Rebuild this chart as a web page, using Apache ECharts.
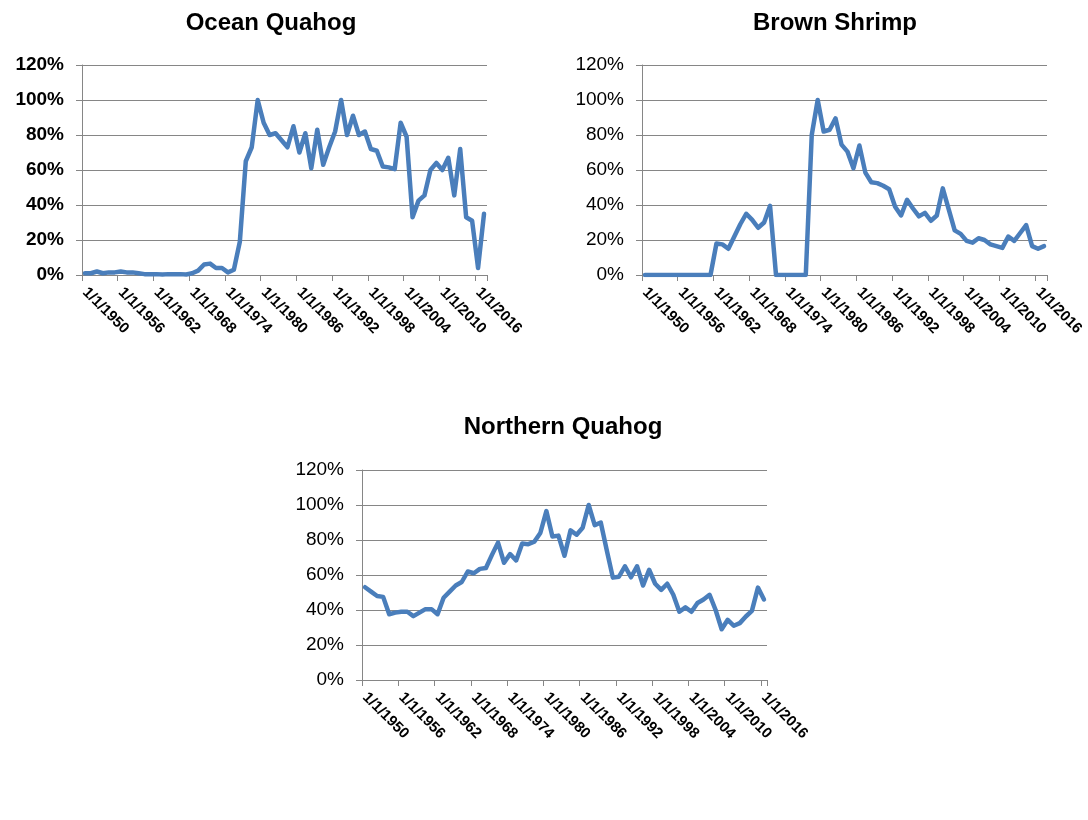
<!DOCTYPE html>
<html>
<head>
<meta charset="utf-8">
<script src="https://cdn.jsdelivr.net/npm/echarts@6/dist/echarts.min.js"></script>
<style>
html,body{margin:0;padding:0;background:#fff;}
#c{width:1088px;height:820px;}
</style>
</head>
<body>
<div id="c"></div>
<script>
// Years (1/1/yyyy) for the three series
const yearsShort = [1950,1951,1952,1953,1954,1955,1956,1957,1958,1959,
  1960,1961,1962,1963,1964,1965,1966,1967,1968,1969,
  1970,1971,1972,1973,1974,1975,1976,1977,1978,1979,
  1980,1981,1982,1983,1984,1985,1986,1987,1988,1989,
  1990,1991,1992,1993,1994,1995,1996,1997,1998,1999,
  2000,2001,2002,2003,2004,2005,2006,2007,2008,2009,
  2010,2011,2012,2013,2014,2015,2016];
const yearsLong = yearsShort.concat([2017]);

// Values in percent
const oceanQuahog = [1,1,2,1,1.5,1.5,2,1.5,1.5,1,
  0.5,0.5,0.5,0.3,0.5,0.5,0.5,0.3,1,2.5,
  6,6.5,4,4,1.5,3,19,65,73,100,
  87,80,81,77,73,85,70,81,61,83,
  63,73,82,100,80,91,80,82,72,71,
  62,61.5,60.5,87,79,33,42.5,45.5,60,64,
  60,67,45.5,72,33,31,4,35];

const brownShrimp = [0,0,0,0,0,0,0,0,0,0,
  0,0,18,17.5,15,22,29,35,31.5,27,
  30,39.5,0,0,0,0,0,0,80,100,
  82,83,89.5,74.5,70.5,61,74,58.5,53,52.5,
  51,49,39,34,43,38,33.5,35.5,31,34,
  49.5,37.5,25.5,23.5,19.5,18.5,21,20,17.5,16.5,
  15.5,22,19.5,24,28.5,16.5,15,16.5];

const northernQuahog = [53,50.5,48,47.5,37.6,38.5,39,39,36.5,38.5,
  40.5,40.5,37.6,47,50.5,54,56,62,61,63.5,
  64,71.5,78.5,67,72,68.3,78,77.6,79,84,
  96.5,82,82.5,71,85.5,83,87,100,88.5,90,
  74,58.5,59,65,58.7,65,54,63,55,51.5,
  55,48.7,39,41.5,39,44,46,48.7,40,29,
  34.4,31,32.5,36.3,39.5,52.8,46];

const titles = ['Ocean Quahog','Brown Shrimp','Northern Quahog'];
const yTicks = [0,20,40,60,80,100,120];

const FONT = 'Liberation Sans, Arial, sans-serif';
const GRID_COLOR = '#868686';
const LINE_COLOR = '#4A7EBB';

const grids = [
  {left:82, top:65, width:405, height:210},
  {left:642, top:65, width:405, height:210},
  {left:362, top:470, width:405, height:210}
];
const cats = [yearsLong, yearsLong, yearsShort];
const datas = [oceanQuahog, brownShrimp, northernQuahog];
const boldY = [true,false,false];

const xAxes = cats.map((ys,i)=>({
  type:'category', gridIndex:i, boundaryGap:true,
  data: ys.map(y=>'1/1/'+y),
  axisLine:{show:true, lineStyle:{color:GRID_COLOR, width:1}},
  axisTick:{show:true, interval:5, length:6, inside:false, lineStyle:{color:GRID_COLOR}},
  axisLabel:{interval:5, rotate:-45, margin:15, color:'#000', fontFamily:FONT, fontWeight:'bold', fontSize:15},
  splitLine:{show:false}
}));
const yAxes = grids.map((g,i)=>({
  type:'value', gridIndex:i, min:yTicks[0], max:yTicks[yTicks.length-1], interval:20,
  axisLine:{show:true, lineStyle:{color:GRID_COLOR, width:1}},
  axisTick:{show:true, length:6, lineStyle:{color:GRID_COLOR}},
  axisLabel:{formatter:'{value}%', margin:18, color:'#000', fontFamily:FONT, fontWeight: boldY[i]?'bold':'normal', fontSize:19},
  splitLine:{show:true, lineStyle:{color:GRID_COLOR, width:1}}
}));
const series = datas.map((d,i)=>({
  type:'line', xAxisIndex:i, yAxisIndex:i, data:d,
  showSymbol:false, symbol:'none', smooth:false,
  lineStyle:{color:LINE_COLOR, width:4.5, join:'round', cap:'round'},
  animation:false
}));
const titleCfg = [
  {text:titles[0], left:266, top:6},
  {text:titles[1], left:830, top:6},
  {text:titles[2], left:558, top:410}
].map(t=>({text:t.text, left:t.left, top:t.top, textAlign:'center',
  textStyle:{fontFamily:FONT, fontWeight:'bold', fontSize:24, color:'#000'}}));

const chart = echarts.init(document.getElementById('c'), null, {renderer:'canvas'});
chart.setOption({
  backgroundColor:'#fff',
  animation:false,
  title:titleCfg,
  grid:grids,
  xAxis:xAxes,
  yAxis:yAxes,
  series:series
});
</script>
</body>
</html>
